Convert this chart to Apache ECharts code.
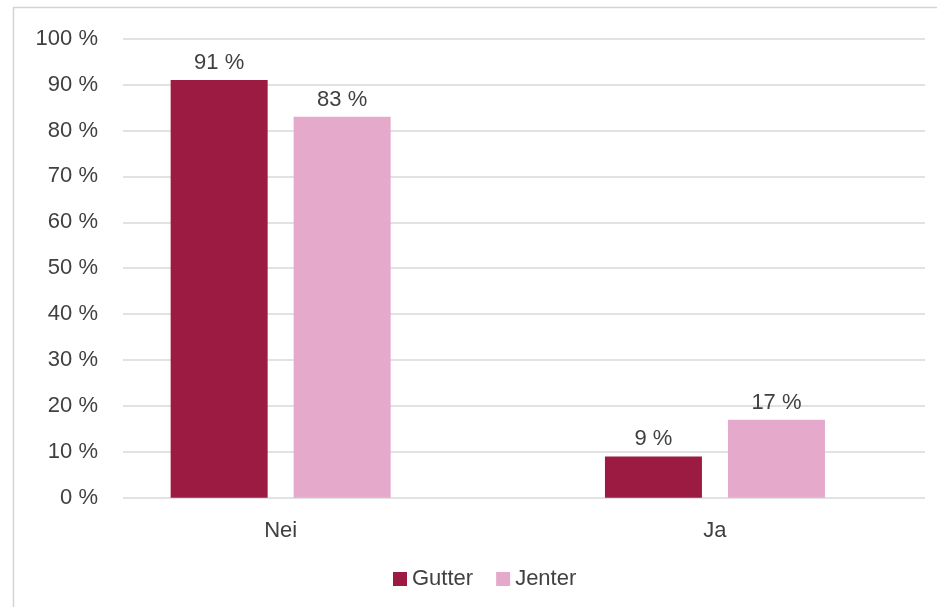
<!DOCTYPE html>
<html>
<head>
<meta charset="utf-8">
<script src="https://cdn.jsdelivr.net/npm/echarts@6/dist/echarts.min.js"></script>
<style>
html,body{margin:0;padding:0;background:#fff;}
#c{width:937px;height:607px;}
</style>
</head>
<body>
<div id="c"></div>
<script>
const categories = ['Nei', 'Ja'];
const gutter = [91, 9];
const jenter = [83, 17];
const seriesNames = ['Gutter', 'Jenter'];

const FONT = '"Liberation Sans", Arial, sans-serif';
const FS = 22;
const TXT = '#404040';
const chart = echarts.init(document.getElementById('c'), null, {renderer: 'canvas'});
const labelCfg = {
  show: true, position: 'top', distance: 6,
  formatter: p => p.value + ' %',
  fontFamily: FONT, fontSize: FS, color: TXT
};
chart.setOption({
  animation: false,
  backgroundColor: '#fff',
  graphic: [{
    type: 'rect', shape: {x: 13.5, y: 7.5, width: 940, height: 620},
    style: {fill: 'none', stroke: '#d4d4d4', lineWidth: 1.5}, z: -1
  }],
  grid: [
    {left: 123, right: 12, top: 38.7, bottom: 109.3},
    {left: 63.5, width: 868.6, top: 38.7, bottom: 109.3}
  ],
  legend: {
    data: seriesNames, top: 563, left: 388,
    itemWidth: 14, itemHeight: 14, itemGap: 23, icon: 'rect',
    textStyle: {fontFamily: FONT, fontSize: FS, color: TXT}
  },
  xAxis: [
    {type: 'category', gridIndex: 0, data: categories, show: false},
    {type: 'category', gridIndex: 1, data: categories,
     axisLine: {show: false}, axisTick: {show: false},
     axisLabel: {fontFamily: FONT, fontSize: FS, color: TXT, margin: 22}}
  ],
  yAxis: [
    {type: 'value', gridIndex: 0, min: 0, max: 100, interval: 10,
     axisLine: {show: false}, axisTick: {show: false},
     axisLabel: {formatter: '{value} %', fontFamily: FONT, fontSize: FS, color: TXT, margin: 25, padding: [5, 0, 0, 0]},
     splitLine: {lineStyle: {color: '#d9d9d9', width: 1.5}}},
    {type: 'value', gridIndex: 1, min: 0, max: 100, interval: 10, show: false, splitLine: {show: false}}
  ],
  series: [
    {name: 'Gutter', type: 'bar', xAxisIndex: 1, yAxisIndex: 1, data: gutter,
     barWidth: 97, barGap: '26.8%', itemStyle: {color: '#9C1B43'}, label: labelCfg},
    {name: 'Jenter', type: 'bar', xAxisIndex: 1, yAxisIndex: 1, data: jenter,
     barWidth: 97, barGap: '26.8%', itemStyle: {color: '#E4A9CB'}, label: labelCfg}
  ]
});
</script>
</body>
</html>
